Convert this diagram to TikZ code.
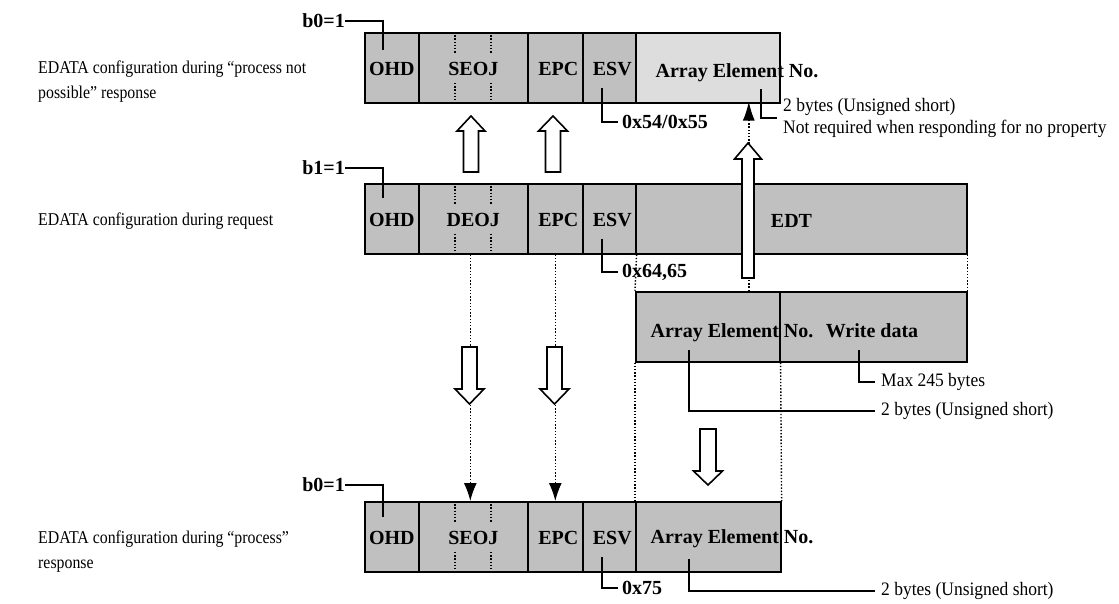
\documentclass[tikz,border=0pt]{standalone}
\usepackage{fontspec}
\setmainfont{Liberation Serif}
\newfontfamily\rowf[FakeStretch=0.88]{Liberation Serif}
\newfontfamily\notef[FakeStretch=0.92]{Liberation Serif}
\usetikzlibrary{arrows.meta}
\definecolor{fgrey}{HTML}{C0C0C0}
\definecolor{lgrey}{HTML}{DDDDDD}
\tikzset{
  fld/.style={draw, line width=1.6pt, fill=fgrey, inner sep=0pt, anchor=north west, minimum height=70pt},
  blab/.style={font=\fontsize{20}{24}\selectfont\bfseries, inner sep=0pt, anchor=base},
  hexlab/.style={font=\fontsize{20}{24}\selectfont\bfseries, inner sep=0pt, anchor=west},
  note/.style={font=\notef\fontsize{19}{22}\selectfont, inner sep=0pt, anchor=west, align=left},
  rowlab/.style={font=\rowf\fontsize{18}{25}\selectfont, inner sep=0pt, anchor=west, align=left},
  lead/.style={line width=1.6pt},
  dots/.style={line width=1.4pt, dash pattern=on 1.4pt off 1.8pt},
  hollow/.style={draw, fill=white, line width=1.6pt, line join=miter},
  blackhead/.style={-{Latex[length=18pt,width=13pt]}}
}
% one row of fixed fields: #1 suffix, #2 top y, #3 object label
\newcommand\efields[3]{%
  \node[fld, minimum width=54pt] (ohd#1) at (364,#2) {};
  \node[fld, minimum width=109pt] (eoj#1) at (418,#2) {};
  \node[fld, minimum width=55pt] (epc#1) at (527,#2) {};
  \node[fld, minimum width=53pt] (esv#1) at (582,#2) {};
  \node[blab] (tohd#1) at ([yshift=-8pt]ohd#1.center) {OHD};
  \node[blab] (teoj#1) at ([yshift=-8pt]eoj#1.center) {#3};
  \node[blab] (tepc#1) at ([xshift=3pt,yshift=-8pt]epc#1.center) {EPC};
  \node[blab] (tesv#1) at ([xshift=3pt,yshift=-8pt]esv#1.center) {ESV};
  \draw[dots] (455,#2) -- (455,{#2+21});
  \draw[dots] (491,#2) -- (491,{#2+21});
  \draw[dots] (455,{#2+51}) -- (455,{#2+70});
  \draw[dots] (491,{#2+51}) -- (491,{#2+70});
}
% hollow block arrow: #1 cx, #2 tip y, #3 head base y, #4 tail y, #5 shaft half, #6 head half
\newcommand\blockarrow[6]{%
  \draw[hollow] ({#1-#5},#4) -- ({#1-#5},#3) -- ({#1-#6},#3) -- (#1,#2) -- ({#1+#6},#3) -- ({#1+#5},#3) -- ({#1+#5},#4) -- cycle;
}
\begin{document}
\begin{tikzpicture}[x=1pt, y=-1pt]
\useasboundingbox (0,0) rectangle (1119,603);

% row labels
\node[rowlab] (lab1) at (38,82) {EDATA configuration during “process not\\possible” response};
\node[rowlab] (lab2) at (38,221) {EDATA configuration during request};
\node[rowlab] (lab3) at (38,552) {EDATA configuration during “process”\\response};

% ---- row 1: process not possible
\efields{A}{32}{SEOJ}
\node[fld, fill=lgrey, minimum width=144pt] (arrA) at (635,32) {};
\node[blab] (tarrA) at (737,77) {Array Element No.};

% ---- row 2: request
\efields{B}{183}{DEOJ}
\node[fld, minimum width=331pt] (edtB) at (635,183) {};
\node[blab] (tedtB) at (791.5,227) {EDT};

% ---- write data box
\node[fld, minimum width=144pt] (wArr) at (635,291) {};
\node[fld, minimum width=187pt] (wData) at (779,291) {};
\node[blab] (twArr) at (732,337) {Array Element No.};
\node[blab] (twData) at (872,337) {Write data};

% ---- row 3: process response
\efields{C}{501}{SEOJ}
\node[fld, minimum width=145pt] (arrC) at (635,501) {};
\node[blab] (tarrC) at (732,543) {Array Element No.};

% ---- bit labels
\coordinate (bAend) at (383,50);
\coordinate (bBend) at (383,198);
\coordinate (bCend) at (383,517);
\node[blab, anchor=east] (bA) at (345,21) {b0=1};
\node[blab, anchor=east] (bB) at (345,168) {b1=1};
\node[blab, anchor=east] (bC) at (345,485) {b0=1};
\draw[lead] (bA.east) -| (bAend);
\draw[lead] (bB.east) -| (bBend);
\draw[lead] (bC.east) -| (bCend);

% ---- ESV values
\coordinate (vA) at (602,88);
\coordinate (vB) at (602,239);
\coordinate (vC) at (602,557);
\node[hexlab] (hexA) at (622,122) {0x54/0x55};
\node[hexlab] (hexB) at (622,272) {0x64,65};
\node[hexlab] (hexC) at (622,588) {0x75};
\draw[lead] (vA) |- ([xshift=-4pt]hexA.west);
\draw[lead] (vB) |- ([xshift=-4pt]hexB.west);
\draw[lead] (vC) |- ([xshift=-4pt]hexC.west);

% ---- size notes
\coordinate (sA) at (761,89);
\node[note] (noteA) at (783,118) {2 bytes (Unsigned short)\\Not required when responding for no property};
\draw[lead] (sA) |- ([xshift=-6pt]noteA.west);

\coordinate (sW1) at (859,350);
\coordinate (sW2) at (689,350);
\node[note] (noteMax) at (881,382) {Max 245 bytes};
\node[note] (noteW) at (881,411) {2 bytes (Unsigned short)};
\draw[lead] (sW1) |- ([xshift=-6pt]noteMax.west);
\draw[lead] (sW2) |- ([xshift=-6pt]noteW.west);

\coordinate (sC) at (689,559);
\node[note] (noteC) at (881,591) {2 bytes (Unsigned short)};
\draw[lead] (sC) |- ([xshift=-6pt]noteC.west);

% ---- dotted guide lines
\draw[dots] (esvB.south east) -- (wArr.north west);
\draw[dots] (edtB.south east) -- (wData.north east);
\draw[dots] (wArr.south west) -- (arrC.north west);
\draw[dots] (wArr.south east) -- (arrC.north east);

% ---- dotted arrows with black heads
\draw[dots, blackhead] ([xshift=-3pt]eojB.south) -- ([xshift=-3pt]eojC.north);
\draw[dots, blackhead] (epcB.south) -- (epcC.north);
\draw[dots, -{Latex[length=19pt,width=12pt]}] ([xshift=41pt]wArr.north) -- ([xshift=41pt,yshift=2pt]arrA.south);

% ---- hollow block arrows
\blockarrow{471}{116}{131}{172}{7.5}{14}
\blockarrow{553}{116}{131}{172}{7.5}{14.5}
\blockarrow{469.5}{404}{389}{347}{7.5}{14.5}
\blockarrow{554.5}{404}{389}{347}{7.5}{14.5}
\blockarrow{748}{143}{159}{278}{6}{13.5}
\blockarrow{708}{485}{471}{429}{8}{14.5}
\end{tikzpicture}
\end{document}
